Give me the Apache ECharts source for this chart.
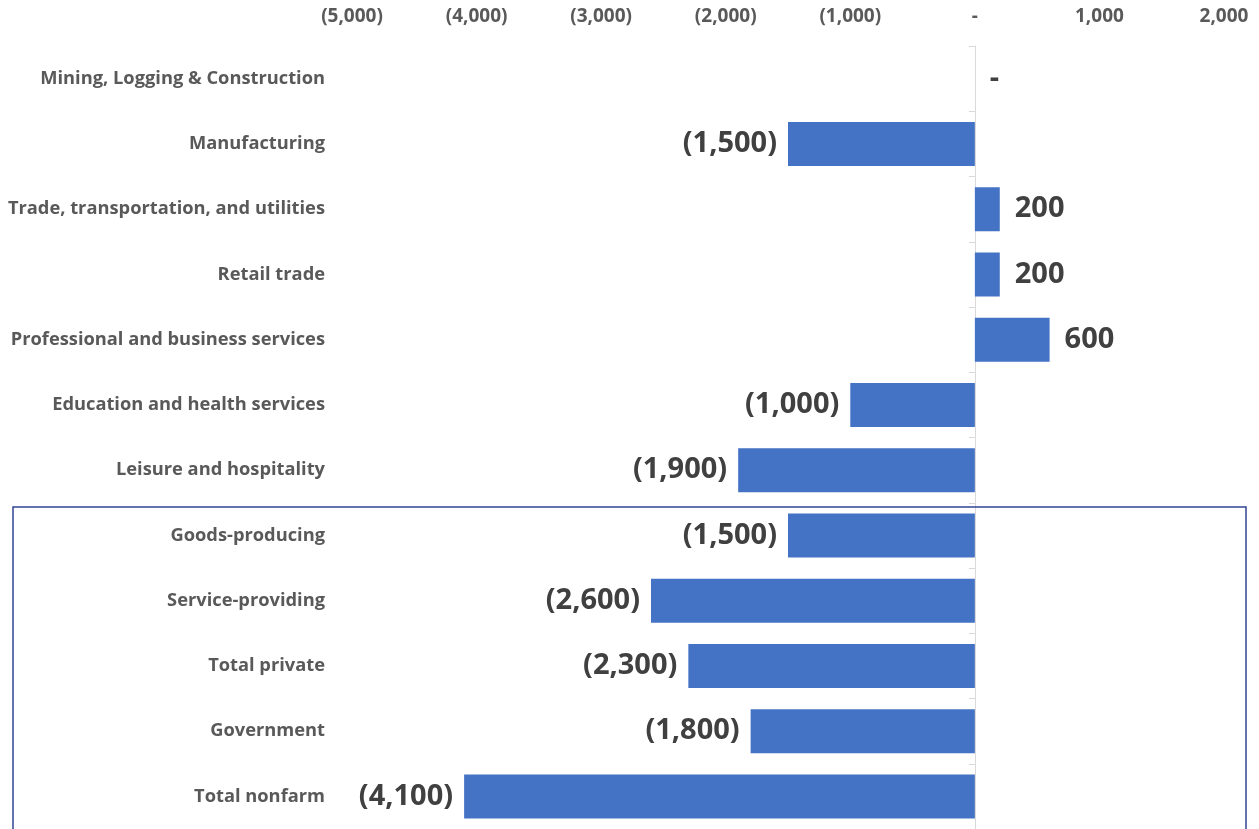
<!DOCTYPE html>
<html><head><meta charset="utf-8">
<script src="https://cdn.jsdelivr.net/npm/echarts@6/dist/echarts.min.js"></script>
<style>html,body{margin:0;padding:0;background:#fff}#c{width:1259px;height:829px}</style>
</head><body><div id="c"></div>
<script>
var categories = ["Mining, Logging & Construction","Manufacturing","Trade, transportation, and utilities","Retail trade","Professional and business services","Education and health services","Leisure and hospitality","Goods-producing","Service-providing","Total private","Government","Total nonfarm"];
var values = [0,-1500,200,200,600,-1000,-1900,-1500,-2600,-2300,-1800,-4100];
var xTicks = [-5000,-4000,-3000,-2000,-1000,0,1000,2000];

function fmt(v){
  if (v === 0) return '-';
  var s = Math.abs(v).toLocaleString('en-US');
  return v < 0 ? '(' + s + ')' : s;
}
var FONT = 'Open Sans';
var chart = echarts.init(document.getElementById('c'));
var data = values.map(function(v){
  return {value: v, label: {position: v < 0 ? 'left' : 'right', distance: v < 0 ? 11 : 15}};
});
chart.setOption({
  animation: false,
  grid: {left: 352, right: 35, top: 46, height: 792},
  xAxis: {
    type: 'value', position: 'top', min: xTicks[0], max: xTicks[xTicks.length-1], interval: 1000,
    axisLine: {show: false}, axisTick: {show: false}, splitLine: {show: false},
    axisLabel: {formatter: fmt, fontFamily: FONT, fontWeight: 'bold', fontSize: 19, color: '#595959', margin: 20}
  },
  yAxis: [{
    type: 'category', data: categories, inverse: true,
    axisLine: {show: false, onZero: false}, axisTick: {show: false},
    axisLabel: {fontFamily: FONT, fontWeight: 'bold', fontSize: 18.3, color: '#595959', margin: 27}
  },{
    type: 'category', data: categories, inverse: true, position: 'left',
    axisLine: {show: true, onZero: true, lineStyle: {color: '#D9D9D9', width: 1}},
    axisTick: {show: true, length: 6, lineStyle: {color: '#D9D9D9'}},
    axisLabel: {show: false}
  }],
  series: [{
    type: 'bar', data: data, barWidth: 44, yAxisIndex: 0,
    itemStyle: {color: '#4472C4'},
    label: {show: true, formatter: function(p){return fmt(p.value);}, fontFamily: FONT, fontWeight: 'bold', fontSize: 29, color: '#404040'}
  }],
  graphic: [{
    type: 'rect', shape: {x: 13, y: 507, width: 1233, height: 340},
    style: {fill: 'none', stroke: '#2F4592', lineWidth: 1.5}, z: 100
  }]
});
</script></body></html>
